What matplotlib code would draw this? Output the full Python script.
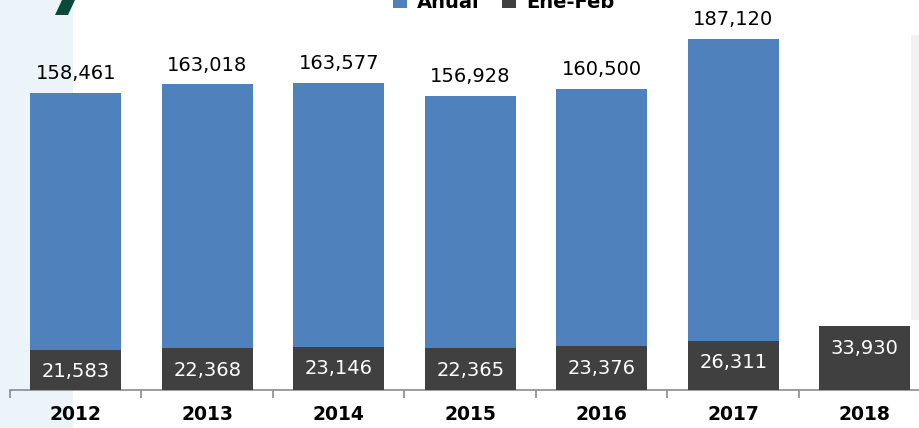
import numpy as np
import matplotlib.pyplot as plt
from matplotlib.patches import Rectangle, Polygon

# Data
years = ['2012', '2013', '2014', '2015', '2016', '2017', '2018']
anual = [158461, 163018, 163577, 156928, 160500, 187120, None]
ene_feb = [21583, 22368, 23146, 22365, 23376, 26311, 33930]

blue = '#4f81bd'
dark = '#404040'

fig = plt.figure(figsize=(9.19, 4.28), dpi=100)
fig.set_facecolor('white')

# background decoration
fig.patches.append(Rectangle((0, 0), 73 / 919, 1, transform=fig.transFigure,
                             facecolor='#ebf4f8', edgecolor='none', zorder=-2))
fig.patches.append(Rectangle((911 / 919, 108 / 428), 8 / 919, 285 / 428,
                             transform=fig.transFigure, facecolor='#f2f2f2',
                             edgecolor='none', zorder=-2))
fig.patches.append(Polygon([(55 / 919, 1 - 15 / 428), (68 / 919, 1 - 15 / 428),
                            (75 / 919, 1.0), (62 / 919, 1.0)],
                           closed=True, transform=fig.transFigure,
                           facecolor='#0b4a3a', edgecolor='none', zorder=-1))

ax = fig.add_axes([10 / 919, 1 - 390 / 428, 920.5 / 919, 390 / 428])
ax.patch.set_alpha(0)

x = np.arange(len(years))
w = 0.69
anual_vals = [v if v is not None else 0 for v in anual]
b1 = ax.bar(x, anual_vals, w, color=blue, label='Anual', zorder=2)
b2 = ax.bar(x, ene_feb, w, color=dark, label='Ene-Feb', zorder=3)

for xi, v in zip(x, anual):
    if v is None:
        continue
    ax.annotate(f'{v:,}', (xi, v), xytext=(0, 14), textcoords='offset points',
                ha='center', va='center', fontsize=14, color='black')
for xi, v in zip(x, ene_feb):
    ax.annotate(f'{v:,}', (xi, v), xytext=(0, -16), textcoords='offset points',
                ha='center', va='center', fontsize=14, color='white', zorder=4)

ax.set_xlim(-0.5, len(years) - 0.5)
ax.set_ylim(0, 208100)
ax.set_yticks([])
for s in ['top', 'right', 'left']:
    ax.spines[s].set_visible(False)
ax.spines['bottom'].set_color('#8c8c8c')
ax.spines['bottom'].set_linewidth(1.2)

ax.set_xticks(x)
ax.set_xticklabels(years, fontsize=13.5, fontweight='heavy')
ax.tick_params(axis='x', which='major', length=0, pad=11)
ax.set_xticks(np.arange(-0.5, len(years), 1), minor=True)
ax.tick_params(axis='x', which='minor', length=6, color='#8c8c8c', width=1.2)

fig.legend(handles=[b1, b2], labels=['Anual', 'Ene-Feb'], loc='center',
           bbox_to_anchor=(0.548, 0.995), ncol=2, frameon=False,
           handlelength=0.7, handleheight=0.7, handletextpad=0.5,
           columnspacing=1.2, prop={'weight': 'bold', 'size': 14})

plt.savefig('out.png', dpi=100)
